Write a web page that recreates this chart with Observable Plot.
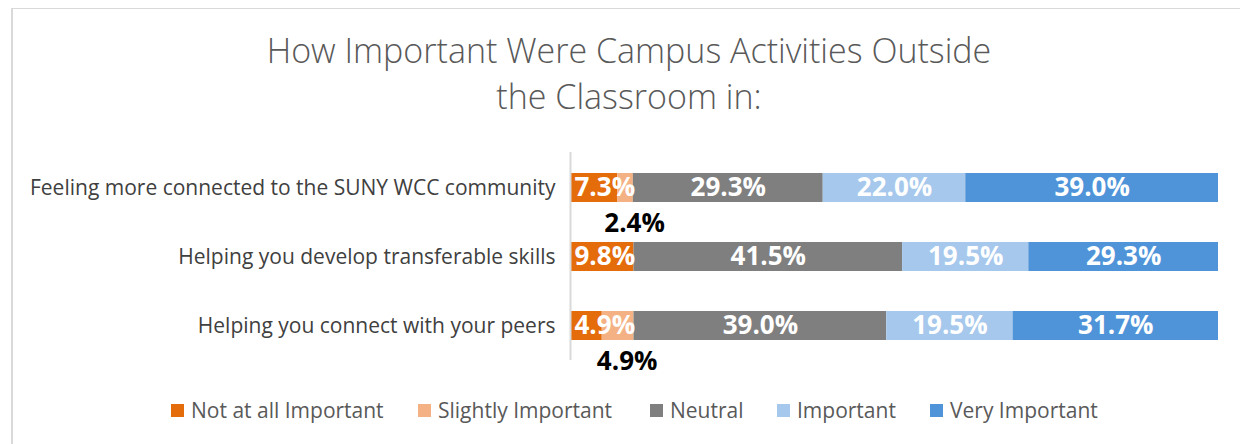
<!DOCTYPE html>
<html>
<head>
<meta charset="utf-8">
<script src="https://cdn.jsdelivr.net/npm/d3@7"></script>
<script src="https://cdn.jsdelivr.net/npm/@observablehq/plot@0.6"></script>
<style>
  html, body { margin: 0; padding: 0; background: #fff; }
  #wrap { position: relative; width: 1240px; height: 444px; overflow: hidden; font-family: "Open Sans", sans-serif; }
  #frame { position: absolute; left: 11px; top: 8px; width: 1300px; height: 500px; border-left: 2px solid #d9d9d9; border-top: 1px solid #d9d9d9; }
  #title { position: absolute; left: 0; width: 1258px; top: 27px; text-align: center; color: #595959; font-size: 34px; font-weight: 300; line-height: 46px; }
  #chart { position: absolute; left: 0; top: 0; }
  #legend { position: absolute; left: 0; top: 396px; width: 1240px; height: 28px; font-size: 21px; color: #595959; }
  .item { position: absolute; top: 0; display: flex; align-items: center; height: 28px; white-space: nowrap; }
  .sw { width: 13px; height: 13px; margin-right: 7px; }
</style>
</head>
<body>
<div id="wrap">
  <div id="frame"></div>
  <div id="title">How Important Were Campus Activities Outside<br>the Classroom in:</div>
  <div id="chart"></div>
  <div id="legend"></div>
</div>
<script>
const categories = [
  "Feeling more connected to the SUNY WCC community",
  "Helping you develop transferable skills",
  "Helping you connect with your peers"
];
const levels = ["Not at all Important", "Slightly Important", "Neutral", "Important", "Very Important"];
const notAtAll      = [7.3, 9.8, 4.9];
const slightly      = [2.4, 0.0, 4.9];
const neutral       = [29.3, 41.5, 39.0];
const important     = [22.0, 19.5, 19.5];
const veryImportant = [39.0, 29.3, 31.7];
const colors = ["#E46C0A", "#F4B183", "#7F7F7F", "#A6C8EC", "#4F94D9"];
const legendX = [171, 418, 650, 777, 930];

const series = [notAtAll, slightly, neutral, important, veryImportant];
const data = [];
categories.forEach((c, i) => {
  levels.forEach((l, j) => {
    data.push({category: c, level: l, value: series[j][i]});
  });
});
const fmt = v => v.toFixed(1) + "%";

const stackOpts = {y: "category", x: "value", offset: "normalize", order: null};

const plot = Plot.plot({
  width: 1240,
  height: 444,
  marginLeft: 570,
  marginRight: 22,
  marginTop: 152,
  marginBottom: 84,
  style: {background: "transparent", fontFamily: "Open Sans, sans-serif"},
  x: {domain: [0, 1], axis: null},
  y: {domain: categories, padding: 0.58, paddingOuter: 0.29, label: null},
  color: {domain: levels, range: colors},
  marks: [
    Plot.axisY({tickSize: 0, tickPadding: 15, fontSize: 21, color: "#404040", label: null}),
    Plot.barX(data, Plot.stackX({...stackOpts, fill: "level"})),
    // first segment labels (anchored to its left edge)
    Plot.text(data, Plot.stackX1({...stackOpts,
      text: d => d.level === levels[0] && d.value > 0 ? fmt(d.value) : "",
      textAnchor: "start", dx: 4, fill: "white", fontWeight: "bold", fontSize: 26})),
    // centered labels for other segments
    Plot.text(data, Plot.stackX({...stackOpts,
      text: d => (d.level !== levels[0] && d.level !== levels[1] && d.value > 0) ? fmt(d.value) : "",
      fill: "white", fontWeight: "bold", fontSize: 26})),
    // small segment labels below the bar
    Plot.text(data, Plot.stackX({...stackOpts,
      text: d => (d.level === levels[1] && d.value > 0) ? fmt(d.value) : "",
      fill: "black", fontWeight: "bold", fontSize: 26, dx: 9, dy: 36})),
    Plot.ruleX([0], {stroke: "#d9d9d9", strokeWidth: 2})
  ]
});
document.getElementById("chart").appendChild(plot);

const legend = document.getElementById("legend");
levels.forEach((l, j) => {
  const it = document.createElement("div");
  it.className = "item";
  it.style.left = legendX[j] + "px";
  it.innerHTML = `<span class="sw" style="background:${colors[j]}"></span><span>${l}</span>`;
  legend.appendChild(it);
});
</script>
</body>
</html>
